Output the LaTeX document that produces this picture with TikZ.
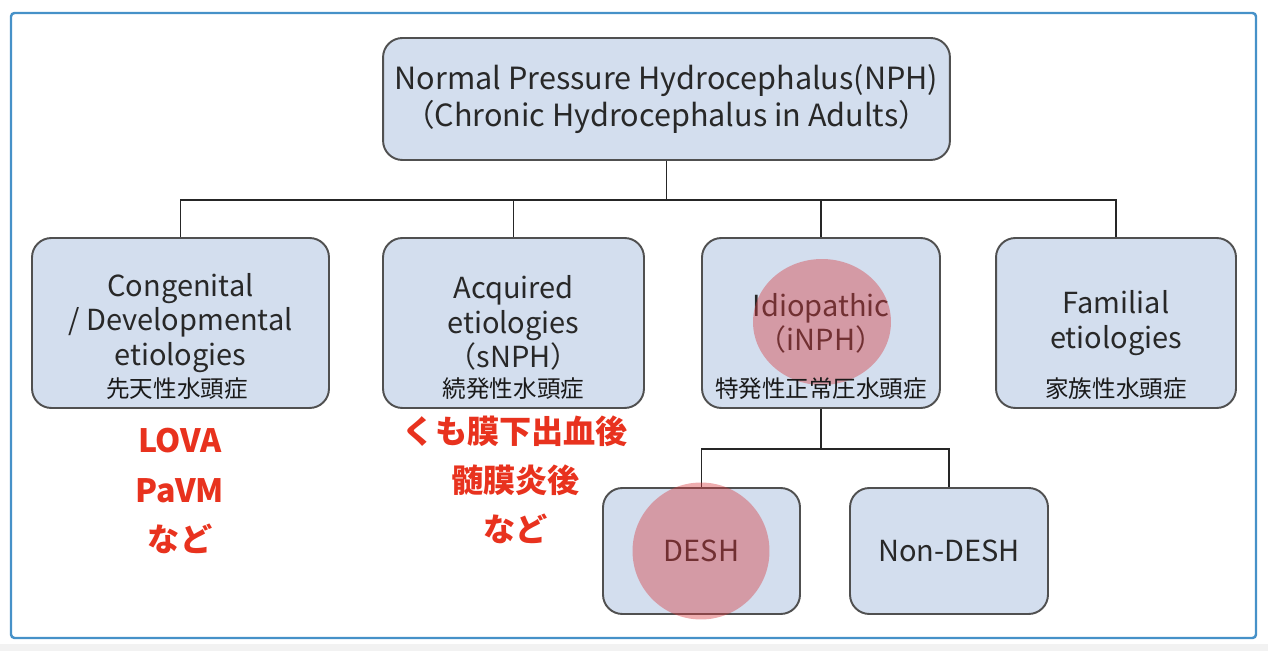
\documentclass[tikz,border=0pt]{standalone}
\usepackage{fontspec}
\setmainfont{Noto Sans CJK JP}
\usepackage{tikz}
\usetikzlibrary{arrows.meta}
\definecolor{boxblue}{RGB}{211,222,238}
\definecolor{boxline}{RGB}{80,80,80}
\definecolor{frameblue}{RGB}{70,145,200}
\definecolor{notered}{RGB}{232,50,30}
\definecolor{spotred}{RGB}{215,60,65}
\definecolor{txtgray}{RGB}{40,40,40}

\begin{document}
\begin{tikzpicture}[x=0.02cm,y=-0.02cm,inner sep=0pt,
        box/.style={draw=boxline,fill=boxblue,line width=1.1pt,rounded corners=11pt,
                    text=txtgray,align=center,font=\fontsize{16.5}{19.5}\selectfont},
        jplabel/.style={text=black!90,font=\fontsize{13.4}{15}\selectfont},
        note/.style={text=notered,align=center,font=\bfseries\fontsize{18.3}{28}\selectfont},
        spot/.style={fill=spotred,fill opacity=0.42},
        link/.style={line width=0.9pt,black!85}]
\useasboundingbox (0,0) rectangle (1268,651);
\fill[gray!10] (0,644) rectangle (1268,651);
\draw[frameblue,line width=1.4pt,rounded corners=2pt] (11,13) rectangle (1256,638);
\draw (666.5,99) node[box,minimum width=11.34cm,minimum height=2.44cm,font=\fontsize{17.4}{21}\selectfont](top) {Normal Pressure Hydrocephalus(NPH)\\（Chronic Hydrocephalus in Adults）};
\draw (180.5,323) node[box,minimum width=5.94cm,minimum height=3.4cm](cong) {Congenital\\/ Developmental\\etiologies};
\draw (top.south) -- ++(0,39) -| (cong.north) [link];
\draw (513.5,323) node[box,minimum width=5.22cm,minimum height=3.4cm](acq) {Acquired\\etiologies\\（sNPH）};
\draw (top.south) -- ++(0,39) -| (acq.north) [link];
\draw (821,323) node[box,minimum width=4.76cm,minimum height=3.4cm](idio) {Idiopathic\\（iNPH）};
\draw (top.south) -- ++(0,39) -| (idio.north) [link];
\draw (1116,323) node[box,minimum width=4.8cm,minimum height=3.4cm](fam) {Familial\\etiologies};
\draw (top.south) -- ++(0,39) -| (fam.north) [link];
\draw (701.5,551) node[box,minimum width=3.94cm,minimum height=2.52cm](desh) {DESH};
\draw (idio.south) -- ++(0,40) -| (desh.north) [link];
\draw (949,551) node[box,minimum width=3.96cm,minimum height=2.52cm](nondesh) {Non-DESH};
\draw (idio.south) -- ++(0,40) -| (nondesh.north) [link];
\fill[spot] (822,322) ellipse [x radius=1.38cm,y radius=1.26cm];
\fill[spot] (701,551) circle [radius=1.37cm];
\draw (177,389) node[jplabel](congjp) {先天性水頭症};
\draw (513.5,389) node[jplabel](acqjp) {続発性水頭症};
\draw (821,389) node[jplabel](idiojp) {特発性正常圧水頭症};
\draw (1116,389) node[jplabel](famjp) {家族性水頭症};
\draw (180,491) node[note](congnote) {LOVA\\PaVM\\など};
\draw (515.5,480) node[note](acqnote) {くも膜下出血後\\髄膜炎後\\など};
\end{tikzpicture}
\end{document}
